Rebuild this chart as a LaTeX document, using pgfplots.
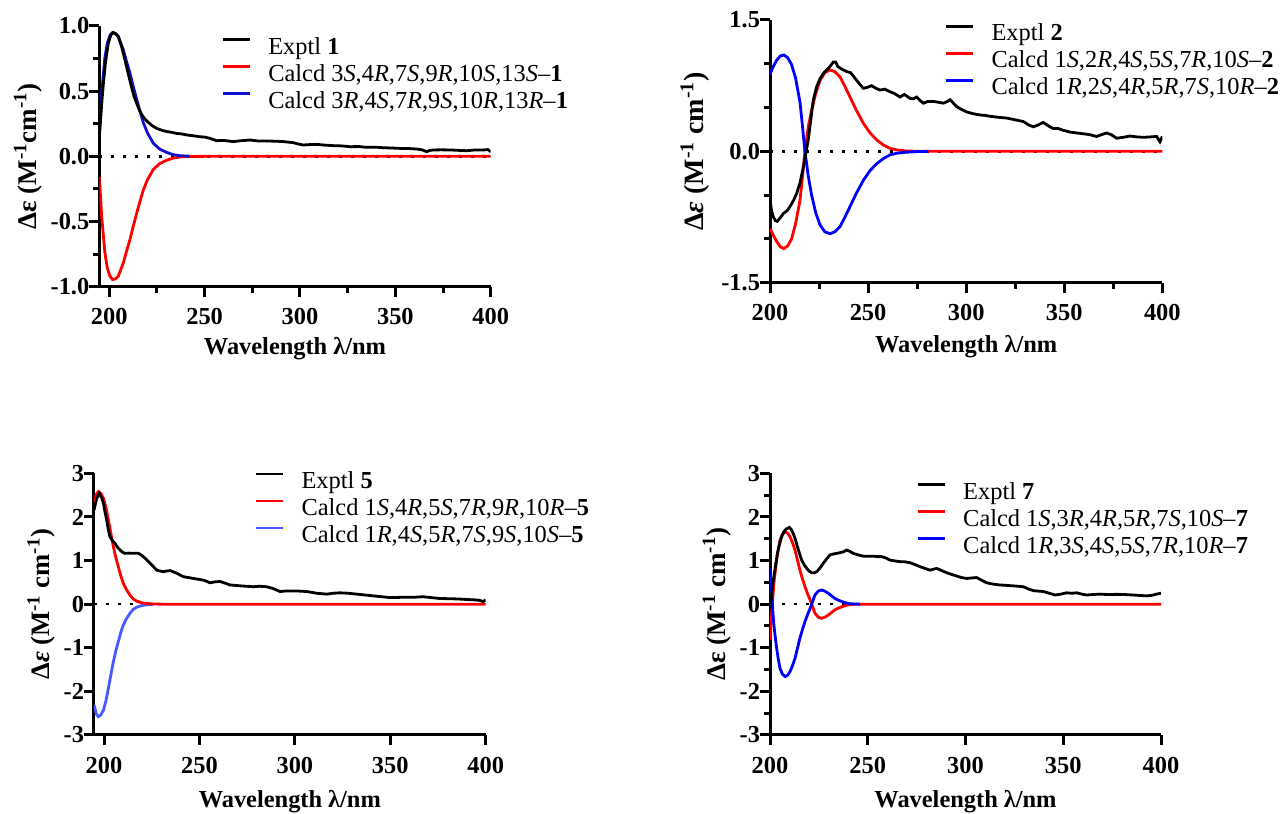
\documentclass[border=0pt]{standalone}
\usepackage{fontspec}
\setmainfont{Liberation Serif}[BoldFont={Liberation Serif Bold}, ItalicFont={Liberation Serif Italic}, BoldItalicFont={Liberation Serif Bold Italic}]
\usepackage{pgfplots}
\pgfplotsset{compat=1.18}
\definecolor{cRed}{RGB}{255,0,0}
\definecolor{cBlue}{RGB}{0,0,255}
\definecolor{cBlueA}{RGB}{15,15,205}
\definecolor{cBlueC}{RGB}{70,90,255}
\newcommand{\fs}{\fontsize{12.2bp}{14bp}\selectfont}
\pgfplotsset{
  cd/.style={
    scale only axis, axis lines*=left,
    axis line style={line width=1.5bp},
    tick align=outside, major tick length=5bp, minor tick length=3bp,
    tick style={line width=1.5bp, black},
    tick label style={font=\fs\bfseries},
    xticklabel style={yshift=-2.5bp},
    yticklabel style={xshift=3.5bp},
    xmax=400,
    xtick={200,250,300,350,400},
    xticklabels={200,250,300,350,400},
    xlabel={Wavelength λ/nm},
    legend style={draw=none, fill=none, inner sep=0pt, outer sep=0pt, anchor=north west,
      font=\fs, row sep=1.5bp, column sep=8.5bp,
      nodes={inner sep=0pt, text height=9bp, text depth=3bp}},
    legend cell align=left,
    legend image code/.code={\draw[#1] (0bp,4.2bp) -- (13.5bp,4.2bp);},
  },
  xlab/.style={every axis x label/.style={at={(axis description cs:0.5,0)}, yshift=#1, anchor=center, font=\fs\bfseries}},
  ylab/.style 2 args={every axis y label/.style={at={(axis description cs:0,0.5)}, xshift=#1, rotate=90, anchor=center, font=\fontsize{#2}{#2}\selectfont\bfseries}},
  crv/.style={line width=1.4bp},
  zl/.style={line width=1.3bp, dash pattern=on 1.3bp off 4.7bp, black, forget plot},
}
\begin{document}
\begin{tikzpicture}
\useasboundingbox (0,0) rectangle (640bp,407bp);
% ---------------- Panel 1 ----------------
\begin{axis}[cd, at={(49.65bp,263.65bp)}, anchor=south west,
  width=195.7bp, height=130.35bp,
  xmin=194.76, ymin=-1, ymax=1,
  ytick={-1,-0.5,0,0.5,1}, yticklabels={-1.0,-0.5,0.0,0.5,1.0},
  minor xtick={225,275,325,375}, minor ytick={-0.75,-0.25,0.25,0.75},
  xlab=-30.8bp, ylab={-35.5bp}{13.5bp},
  ylabel={Δε (M\textsuperscript{-1}cm\textsuperscript{-1})},
  legend style={at={(axis description cs:0.3127,0.9616)}}]
\addlegendimage{black, line width=1.3bp}
\addlegendentry{Exptl \textbf{1}}
\addlegendimage{cRed, line width=1.3bp}
\addlegendentry{Calcd 3\textit{S},4\textit{R},7\textit{S},9\textit{R},10\textit{S},13\textit{S}–\textbf{1}}
\addlegendimage{cBlueA, line width=1.3bp}
\addlegendentry{Calcd 3\textit{R},4\textit{S},7\textit{R},9\textit{S},10\textit{R},13\textit{R}–\textbf{1}}
\addplot[zl] coordinates {(194.76,0) (400,0)};
\addplot[crv, cRed, forget plot] coordinates {(194.8,-0.16) (196.0,-0.46) (197.7,-0.74) (199.0,-0.86) (200.4,-0.92) (201.7,-0.945) (203.2,-0.94) (204.7,-0.92) (206.0,-0.87) (207.3,-0.82) (209.0,-0.73) (210.8,-0.64) (212.5,-0.54) (214.3,-0.44) (216.0,-0.35) (217.8,-0.26) (220.0,-0.18) (223.1,-0.10) (226.5,-0.055) (230.1,-0.03) (233.5,-0.013) (237.1,-0.005) (242,-0.001) (250,0) (400,0)};
\addplot[crv, cBlueA, forget plot] coordinates {(194.8,0.176) (196.0,0.48) (197.7,0.76) (199.0,0.87) (200.4,0.93) (201.7,0.95) (203.2,0.94) (204.7,0.92) (206.0,0.87) (207.3,0.82) (209.0,0.73) (210.8,0.64) (212.5,0.54) (214.3,0.44) (216.0,0.35) (217.8,0.26) (220.0,0.18) (223.1,0.10) (226.5,0.055) (230.1,0.03) (233.5,0.013) (237.1,0.005) (242,0.001)};
\addplot[crv, black, forget plot] coordinates {(194.8,0.15) (196.0,0.40) (196.9,0.56) (198.0,0.72) (199.5,0.87) (200.8,0.93) (202.1,0.95) (203.5,0.94) (204.7,0.92) (206.5,0.84) (208.2,0.74) (210.0,0.63) (211.7,0.53) (213.0,0.46) (214.3,0.41) (215.6,0.36) (217.0,0.32) (218.7,0.285) (220.5,0.26) (222.5,0.235) (224.8,0.215) (227.5,0.20) (230.1,0.19) (232.5,0.185) (235.3,0.176) (238,0.172) (240.6,0.164) (244,0.158) (247.6,0.15) (250,0.148) (252.8,0.138) (256.3,0.12) (260,0.122) (265,0.113) (269,0.12) (273.8,0.125) (278,0.118) (282.5,0.118) (287,0.116) (291.3,0.113) (296.5,0.105) (299,0.095) (301.7,0.087) (305,0.09) (308.7,0.092) (313,0.086) (317.5,0.082) (322,0.08) (326.2,0.074) (331,0.075) (335,0.069) (340,0.07) (343.7,0.066) (348,0.064) (352.4,0.061) (357,0.06) (361.2,0.056) (364,0.05) (366.4,0.036) (368,0.045) (369.9,0.049) (374,0.05) (378.7,0.049) (383,0.046) (387.4,0.043) (391,0.048) (396.2,0.049) (398.5,0.052) (400,0.035)};
\end{axis}
% ---------------- Panel 2 ----------------
\begin{axis}[cd, at={(385bp,265.65bp)}, anchor=south west,
  width=196.15bp, height=131.35bp,
  xmin=200, ymin=-1.5, ymax=1.5,
  ytick={-1.5,0,1.5}, yticklabels={-1.5,0.0,1.5},
  minor xtick={225,275,325,375}, minor ytick={-1,-0.5,0.5,1},
  xlab=-32bp, ylab={-37.5bp}{14bp},
  ylabel={Δ\textit{ε} (M\textsuperscript{-1} cm\textsuperscript{-1})},
  legend style={at={(axis description cs:0.446,0.99)}}]
\addlegendimage{black, line width=1.3bp}
\addlegendentry{Exptl \textbf{2}}
\addlegendimage{cRed, line width=1.3bp}
\addlegendentry{Calcd 1\textit{S},2\textit{R},4\textit{S},5\textit{S},7\textit{R},10\textit{S}–\textbf{2}}
\addlegendimage{cBlue, line width=1.3bp}
\addlegendentry{Calcd 1\textit{R},2\textit{S},4\textit{R},5\textit{R},7\textit{S},10\textit{R}–\textbf{2}}
\addplot[zl] coordinates {(200,0) (400,0)};
\addplot[crv, cRed, forget plot] coordinates {(200,-0.88) (201.5,-0.95) (203.4,-1.03) (205.3,-1.09) (207.1,-1.11) (209.0,-1.08) (211.0,-1.0) (213.0,-0.83) (215.3,-0.56) (216.5,-0.30) (217.8,0.0) (219.5,0.28) (221.2,0.47) (223.3,0.66) (225.5,0.81) (228,0.90) (230.6,0.93) (233,0.91) (235.7,0.85) (238,0.75) (240.8,0.62) (244,0.47) (247.6,0.32) (251,0.21) (254.4,0.13) (258,0.07) (261.2,0.034) (265,0.015) (269.7,0.004) (275,0.001) (280,0) (400,0)};
\addplot[crv, cBlue, forget plot] coordinates {(200,0.88) (201.5,0.96) (203.4,1.04) (205.3,1.09) (207.1,1.10) (209,1.07) (211,0.99) (213,0.84) (215.3,0.56) (216.5,0.30) (217.8,0) (219.5,-0.28) (221.2,-0.50) (223.3,-0.70) (225.5,-0.84) (228,-0.92) (230.6,-0.94) (233,-0.92) (235.7,-0.86) (238,-0.76) (240.8,-0.63) (244,-0.48) (247.6,-0.33) (251,-0.22) (254.4,-0.14) (258,-0.08) (261.2,-0.04) (265,-0.02) (269.7,-0.01) (275,-0.003) (280.7,0)};
\addplot[crv, black, forget plot] coordinates {(200,-0.55) (200.8,-0.68) (201.7,-0.75) (202.7,-0.79) (203.7,-0.80) (205.2,-0.76) (206.8,-0.71) (208,-0.69) (209,-0.67) (210.2,-0.63) (212,-0.56) (213.6,-0.48) (215.3,-0.36) (217,-0.18) (218.3,-0.02) (219.5,0.13) (220.8,0.36) (222.1,0.59) (223.8,0.74) (225.5,0.83) (227.2,0.89) (228.9,0.93) (230.6,0.97) (232.3,1.02) (233.5,1.02) (234.5,0.97) (236.5,0.94) (239.1,0.91) (241,0.90) (242.5,0.86) (244.2,0.81) (246,0.76) (247.6,0.72) (249.5,0.73) (251.8,0.75) (254,0.72) (256.1,0.70) (258.5,0.71) (261.2,0.68) (263.5,0.66) (266.3,0.62) (268.5,0.65) (271.4,0.605) (273,0.60) (274.8,0.62) (276.5,0.58) (278.2,0.55) (280.5,0.57) (283.3,0.57) (286,0.56) (288.4,0.55) (290.5,0.57) (291.8,0.59) (293.5,0.55) (295.2,0.51) (297.5,0.48) (300.3,0.45) (303.5,0.43) (307.1,0.415) (310,0.41) (312.2,0.40) (316,0.39) (320.7,0.38) (325,0.36) (329.2,0.34) (332,0.30) (334.3,0.28) (336.5,0.30) (339.3,0.33) (342,0.29) (344.4,0.26) (347,0.26) (349.5,0.24) (353,0.22) (356.3,0.21) (360,0.20) (363.1,0.19) (366.5,0.17) (369,0.19) (371.6,0.21) (374,0.19) (376.7,0.15) (380,0.16) (383.5,0.175) (387,0.165) (390.3,0.16) (394,0.165) (397.1,0.17) (398.8,0.11) (400,0.17)};
\end{axis}
% ---------------- Panel 3 ----------------
\begin{axis}[cd, at={(47bp,39.5bp)}, anchor=south west,
  width=195.85bp, height=130.85bp,
  xmin=194.76, ymin=-3, ymax=3,
  ytick={-3,-2,-1,0,1,2,3}, yticklabels={-3,-2,-1,0,1,2,3},
  xlab=-33.3bp, ylab={-26.3bp}{13.3bp},
  ylabel={Δ\textit{ε} (M\textsuperscript{-1} cm\textsuperscript{-1})},
  legend style={at={(axis description cs:0.411,1.0115)}}]
\addlegendimage{black, line width=1.3bp}
\addlegendentry{Exptl \textbf{5}}
\addlegendimage{cRed, line width=1.3bp}
\addlegendentry{Calcd 1\textit{S},4\textit{R},5\textit{S},7\textit{R},9\textit{R},10\textit{R}–\textbf{5}}
\addlegendimage{cBlueC, line width=1.3bp}
\addlegendentry{Calcd 1\textit{R},4\textit{S},5\textit{R},7\textit{S},9\textit{S},10\textit{S}–\textbf{5}}
\addplot[zl] coordinates {(194.76,0) (400,0)};
\addplot[crv, cBlueC, forget plot] coordinates {(194.8,-2.31) (196,-2.52) (197,-2.58) (198.3,-2.54) (199.7,-2.43) (201,-2.22) (202.3,-1.93) (203.6,-1.62) (204.9,-1.32) (206.2,-1.07) (207.5,-0.86) (208.8,-0.65) (210.1,-0.48) (211.8,-0.33) (213.6,-0.21) (215.3,-0.12) (217.1,-0.07) (219.5,-0.035) (222.4,-0.015) (225.8,-0.003)};
\addplot[crv, cRed, forget plot] coordinates {(194.8,2.31) (196,2.52) (197,2.58) (198.3,2.54) (199.7,2.43) (201,2.22) (202.3,1.93) (203.6,1.62) (204.9,1.32) (206.2,1.07) (207.5,0.86) (208.8,0.65) (210.1,0.48) (211.8,0.33) (213.6,0.21) (215.3,0.12) (217.1,0.07) (219.5,0.035) (222.4,0.015) (225.8,0.003) (230,0) (400,0)};
\addplot[crv, black, forget plot] coordinates {(194.8,2.16) (196.2,2.43) (197.6,2.54) (198.7,2.45) (199.7,2.31) (200.5,2.12) (201.4,1.93) (202.2,1.72) (203.1,1.55) (204.4,1.46) (205.8,1.39) (207,1.31) (208.4,1.24) (209.7,1.19) (211,1.165) (213,1.17) (215.4,1.165) (218,1.165) (219.4,1.13) (220.6,1.09) (222.3,1.02) (224.1,0.94) (225.9,0.86) (227.6,0.78) (229.3,0.76) (231.1,0.745) (232.9,0.76) (234.6,0.77) (236.4,0.74) (238.1,0.71) (239.8,0.67) (241.6,0.63) (244.2,0.61) (246.8,0.59) (249.5,0.57) (252.1,0.55) (254,0.52) (255.5,0.49) (258,0.51) (260.8,0.52) (263.5,0.48) (266,0.44) (268.8,0.43) (271.3,0.42) (274.8,0.41) (278.2,0.40) (281.5,0.41) (285.2,0.40) (288.5,0.36) (292.2,0.29) (294.8,0.30) (297.5,0.30) (302,0.30) (306.2,0.29) (309,0.27) (311.4,0.25) (314,0.24) (316.7,0.23) (320,0.25) (323.7,0.26) (328,0.25) (332.4,0.23) (336.8,0.21) (341.1,0.19) (345.5,0.17) (349.9,0.15) (354,0.155) (358.6,0.16) (363,0.16) (367.3,0.17) (371.5,0.15) (376,0.13) (380.5,0.125) (384.8,0.12) (389,0.11) (393.5,0.10) (396.5,0.09) (398.8,0.06) (400,0.1)};
\end{axis}
% ---------------- Panel 4 ----------------
\begin{axis}[cd, at={(385bp,39.5bp)}, anchor=south west,
  width=195.5bp, height=130.85bp,
  xmin=200, ymin=-3, ymax=3,
  ytick={-3,-2,-1,0,1,2,3}, yticklabels={-3,-2,-1,0,1,2,3},
  minor ytick={-2.5,-1.5,-0.5,0.5,1.5,2.5},
  xlab=-33.3bp, ylab={-26.5bp}{13.5bp},
  ylabel={Δε (M\textsuperscript{-1} cm\textsuperscript{-1})},
  legend style={at={(axis description cs:0.375,0.9706)}}]
\addlegendimage{black, line width=1.3bp}
\addlegendentry{Exptl \textbf{7}}
\addlegendimage{cRed, line width=1.3bp}
\addlegendentry{Calcd 1\textit{S},3\textit{R},4\textit{R},5\textit{R},7\textit{S},10\textit{S}–\textbf{7}}
\addlegendimage{cBlue, line width=1.3bp}
\addlegendentry{Calcd 1\textit{R},3\textit{S},4\textit{S},5\textit{S},7\textit{R},10\textit{R}–\textbf{7}}
\addplot[zl] coordinates {(200,0) (400,0)};
\addplot[crv, cRed, forget plot] coordinates {(200,-0.82) (200.5,-0.50) (200.9,-0.21) (201.5,0.20) (202,0.48) (202.7,0.76) (203.4,1.01) (204.2,1.25) (205.1,1.47) (206.3,1.60) (207.7,1.66) (209,1.63) (210.2,1.55) (211.5,1.41) (212.8,1.24) (214,1.02) (215.3,0.78) (216.6,0.58) (217.9,0.40) (219.2,0.24) (220.5,0.10) (221.8,-0.06) (223,-0.21) (224.7,-0.30) (226.4,-0.325) (228,-0.30) (229.8,-0.25) (231.5,-0.19) (233.2,-0.13) (235,-0.09) (236.7,-0.06) (238.8,-0.03) (240.9,-0.01) (243.5,-0.003) (246,0) (400,0)};
\addplot[crv, cBlue, forget plot] coordinates {(200,0.82) (200.5,0.50) (200.9,0.21) (201.5,-0.20) (202,-0.48) (202.7,-0.76) (203.4,-1.01) (204.2,-1.25) (205.1,-1.47) (206.3,-1.60) (207.7,-1.66) (209,-1.63) (210.2,-1.55) (211.5,-1.41) (212.8,-1.24) (214,-1.02) (215.3,-0.78) (216.6,-0.58) (217.9,-0.40) (219.2,-0.24) (220.5,-0.10) (221.8,0.06) (223,0.21) (224.7,0.30) (226.4,0.325) (228,0.30) (229.8,0.25) (231.5,0.19) (233.2,0.13) (235,0.09) (236.7,0.06) (238.8,0.03) (240.9,0.01) (243.5,0.003) (246,0)};
\addplot[crv, black, forget plot] coordinates {(200,-0.10) (200.8,0.20) (201.7,0.55) (202.8,0.88) (203.8,1.17) (204.9,1.38) (206,1.55) (207.1,1.66) (208.2,1.72) (209.9,1.76) (210.9,1.71) (211.9,1.62) (213,1.48) (214,1.32) (215.1,1.16) (216.2,1.01) (217.5,0.90) (218.8,0.82) (220,0.76) (221.3,0.72) (222.6,0.72) (223.9,0.745) (225.6,0.83) (227.3,0.94) (229,1.04) (230.7,1.13) (232.4,1.15) (234.1,1.165) (235.8,1.18) (237.5,1.20) (239.2,1.24) (240.9,1.21) (242.6,1.165) (245,1.13) (247.7,1.10) (250.3,1.10) (252.9,1.10) (255,1.09) (257.1,1.09) (259.2,1.06) (261.4,1.01) (264,0.99) (266.5,0.975) (269,0.97) (271.6,0.95) (274,0.91) (276.7,0.86) (279.2,0.82) (281.8,0.78) (283.5,0.80) (285.3,0.82) (287.8,0.77) (290.4,0.72) (293,0.68) (295.5,0.645) (298,0.61) (300.6,0.59) (303,0.60) (305.7,0.61) (308.2,0.55) (310.8,0.49) (314,0.46) (317.6,0.44) (321,0.43) (324.5,0.42) (327,0.41) (329.6,0.40) (332,0.35) (334.7,0.31) (337,0.30) (339.8,0.29) (342.8,0.25) (345.8,0.21) (348.8,0.23) (351.7,0.26) (354.3,0.25) (356.9,0.26) (359.5,0.23) (362,0.21) (365,0.22) (368.8,0.23) (373,0.22) (377.3,0.225) (381.5,0.22) (385.8,0.21) (389,0.20) (392.7,0.19) (395,0.20) (397.8,0.23) (400,0.25)};
\end{axis}
\end{tikzpicture}
\end{document}
